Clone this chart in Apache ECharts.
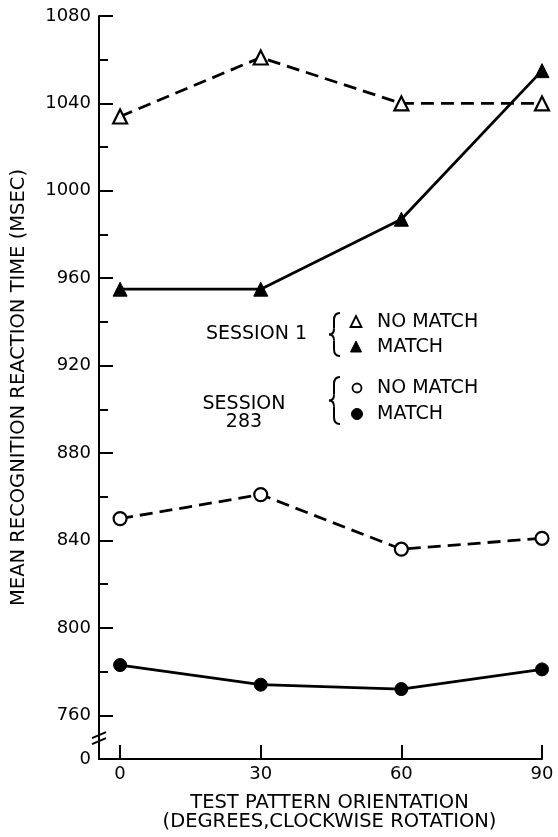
<!DOCTYPE html>
<html>
<head>
<meta charset="utf-8">
<script src="https://cdn.jsdelivr.net/npm/echarts@6/dist/echarts.min.js"></script>
<style>
html,body{margin:0;padding:0;background:#fff;}
#chart{width:558px;height:837px;}
</style>
</head>
<body>
<div id="chart"></div>
<script>
// ---- data ----
var orientations = [0, 30, 60, 90];
var session1NoMatch = [1034, 1061, 1040, 1040];
var session1Match = [955, 955, 987, 1055];
var session283NoMatch = [850, 861, 836, 841];
var session283Match = [783, 774, 772, 781];
var yLabelValues = [740, 760, 800, 840, 880, 920, 960, 1000, 1040, 1080];
var yMinorTicks = [780, 820, 860, 900, 940, 980, 1020, 1060];
var yMajorTicks = [760, 800, 840, 880, 920, 960, 1000, 1040, 1080];
var xTickValues = [0, 30, 60, 90];
var yAxisName = 'MEAN RECOGNITION REACTION TIME (MSEC)';
var xAxisName = 'TEST PATTERN ORIENTATION\n(DEGREES,CLOCKWISE ROTATION)';

function pairs(ys) { return orientations.map(function (x, i) { return [x, ys[i]]; }); }

var FONT = 'DejaVu Sans';
var chart = echarts.init(document.getElementById('chart'), null, { renderer: 'canvas' });

var openStyle = { color: '#fff', borderColor: '#000', borderWidth: 2.2 };
var filledStyle = { color: '#000', borderColor: '#000', borderWidth: 1 };

var option = {
  backgroundColor: '#fff',
  animation: false,
  textStyle: { fontFamily: FONT, color: '#000' },
  grid: { left: 99, right: 16, top: 16, bottom: 78 },
  xAxis: {
    type: 'value', min: -4.5, max: 90,
    axisLine: { onZero: false, lineStyle: { color: '#000', width: 2 } },
    axisTick: { show: true, inside: true, length: 14, customValues: xTickValues, lineStyle: { color: '#000', width: 2 } },
    axisLabel: { customValues: xTickValues, color: '#000', fontSize: 18, fontFamily: FONT, margin: 6 },
    splitLine: { show: false },
    name: xAxisName, nameLocation: 'middle', nameGap: 34,
    nameTextStyle: { fontSize: 19.5, fontFamily: FONT, color: '#000', lineHeight: 19, padding: [0, 0, 0, 18] }
  },
  yAxis: [{
    type: 'value', min: 740, max: 1080,
    axisLine: { show: true, onZero: false, lineStyle: { color: '#000', width: 2 } },
    axisTick: { show: true, inside: true, length: 9, customValues: yMinorTicks, lineStyle: { color: '#000', width: 2 } },
    axisLabel: {
      customValues: yLabelValues, color: '#000', fontSize: 18, fontFamily: FONT, margin: 8,
      formatter: function (v) { return v === 740 ? '0' : String(v); }
    },
    splitLine: { show: false },
    name: yAxisName, nameLocation: 'middle', nameGap: 70, nameRotate: 90,
    nameTextStyle: { fontSize: 19.5, fontFamily: FONT, color: '#000' }
  }, {
    type: 'value', min: 740, max: 1080, position: 'left',
    axisLine: { show: false, onZero: false },
    axisTick: { show: true, inside: true, length: 14, customValues: yMajorTicks, lineStyle: { color: '#000', width: 2 } },
    axisLabel: { show: false },
    splitLine: { show: false }
  }],
  series: [
    { name: 'Session 1 No Match', type: 'line', data: pairs(session1NoMatch),
      symbol: 'triangle', symbolSize: 14, itemStyle: openStyle,
      lineStyle: { color: '#000', width: 2.8, type: [13, 7] }, z: 3 },
    { name: 'Session 1 Match', type: 'line', data: pairs(session1Match),
      symbol: 'triangle', symbolSize: 14, itemStyle: filledStyle,
      lineStyle: { color: '#000', width: 2.8 }, z: 3 },
    { name: 'Session 283 No Match', type: 'line', data: pairs(session283NoMatch),
      symbol: 'circle', symbolSize: 13, itemStyle: openStyle,
      lineStyle: { color: '#000', width: 2.8, type: [13, 7] }, z: 3 },
    { name: 'Session 283 Match', type: 'line', data: pairs(session283Match),
      symbol: 'circle', symbolSize: 13, itemStyle: filledStyle,
      lineStyle: { color: '#000', width: 2.8 }, z: 3 }
  ]
};
chart.setOption(option);

// decorations: axis break, legend block
var bp = chart.convertToPixel({ xAxisIndex: 0, yAxisIndex: 0 }, [-4.5, 750]);
var bx = bp[0], by = bp[1];
var LS = { stroke: '#000', lineWidth: 2, fill: null };
function brace(x, y1, y2) {
  var m = (y1 + y2) / 2;
  return [
    { type: 'bezierCurve', shape: { x1: x + 6, y1: y1, x2: x, y2: y1 + 7, cpx1: x, cpy1: y1 }, style: LS },
    { type: 'line', shape: { x1: x, y1: y1 + 7, x2: x, y2: m - 6 }, style: LS },
    { type: 'bezierCurve', shape: { x1: x, y1: m - 6, x2: x - 5, y2: m, cpx1: x, cpy1: m }, style: LS },
    { type: 'bezierCurve', shape: { x1: x - 5, y1: m, x2: x, y2: m + 6, cpx1: x, cpy1: m }, style: LS },
    { type: 'line', shape: { x1: x, y1: m + 6, x2: x, y2: y2 - 7 }, style: LS },
    { type: 'bezierCurve', shape: { x1: x, y1: y2 - 7, x2: x + 6, y2: y2, cpx1: x, cpy1: y2 }, style: LS }
  ];
}
function t(x, y, s, align) {
  return { type: 'text', x: x, y: y, style: { text: s, fill: '#000', font: '19px "DejaVu Sans"',
    textAlign: align || 'left', textVerticalAlign: 'middle', lineHeight: 18 } };
}
var elems = [
  { type: 'line', shape: { x1: bx - 7, y1: by + 1, x2: bx + 7, y2: by - 5 }, style: LS },
  { type: 'line', shape: { x1: bx - 7, y1: by + 7, x2: bx + 7, y2: by + 1 }, style: LS },
  t(307, 334, 'SESSION 1', 'right'),
  { type: 'polygon', shape: { points: [[356, 316], [350.5, 327], [361.5, 327]] }, style: { stroke: '#000', fill: '#fff', lineWidth: 1.8 } },
  t(377, 322, 'NO MATCH'),
  { type: 'polygon', shape: { points: [[356, 341], [350.5, 352], [361.5, 352]] }, style: { stroke: '#000', fill: '#000', lineWidth: 1 } },
  t(377, 347, 'MATCH'),
  t(244, 413, 'SESSION\n283', 'center'),
  { type: 'circle', shape: { cx: 357, cy: 388, r: 4.5 }, style: { stroke: '#000', fill: '#fff', lineWidth: 1.8 } },
  t(377, 388, 'NO MATCH'),
  { type: 'circle', shape: { cx: 357, cy: 414, r: 5.5 }, style: { stroke: '#000', fill: '#000' } },
  t(377, 414, 'MATCH')
].concat(brace(334, 313, 356), brace(334, 377, 424));
chart.setOption({ graphic: elems });
</script>
</body>
</html>
